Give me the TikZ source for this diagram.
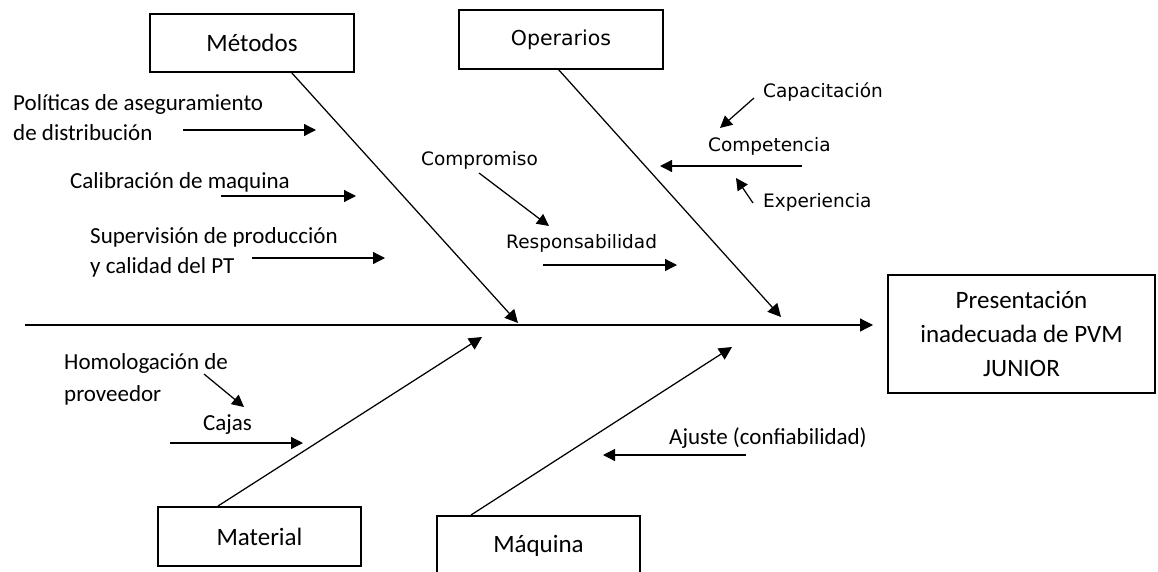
\documentclass[tikz,border=0pt]{standalone}
\usepackage{fontspec}
\setmainfont{Carlito}
\newfontfamily\verdfont{DejaVu Sans}
\usetikzlibrary{arrows.meta}

\begin{document}
\begin{tikzpicture}[x=1pt,y=-1pt,
  catbox/.style={draw, line width=1.3pt, inner sep=0pt, font=\fontsize{25}{30}\selectfont},
  lbl/.style={anchor=west, inner sep=0pt, align=left, font=\fontsize{23}{30}\selectfont},
  vlbl/.style={anchor=west, inner sep=0pt, align=left, font=\verdfont\fontsize{18.5}{23}\selectfont},
  bone/.style={line width=1.25pt, -{Triangle[length=13pt,width=13pt]}},
  twig/.style={line width=1.25pt, -{Triangle[length=12pt,width=12pt]}},
]
\useasboundingbox (0,0) rectangle (1158,571);

% category boxes and effect box
\node[catbox, minimum width=204pt, minimum height=58pt] (met) at (252,43) {Métodos};
\node[catbox, minimum width=204pt, minimum height=59pt, font=\verdfont\fontsize{20.5}{25}\selectfont] (ope) at (561,39.5) {Operarios};
\node[catbox, minimum width=203pt, minimum height=59pt] (mat) at (259.5,536.5) {Material};
\node[catbox, minimum width=203pt, minimum height=59pt] (maq) at (538.5,545.5) {Máquina};
\node[catbox, minimum width=267pt, minimum height=118pt, align=center,
      font=\fontsize{25}{34}\selectfont] (res) at (1021.5,334) {Presentación\\inadecuada de PVM\\JUNIOR};

% spine
\coordinate (tail) at (25,325);
\coordinate (head) at (873,325);
\draw[bone] (tail) -- (head);

% main bones
\coordinate (metA) at (291,72);   \coordinate (metB) at (518,323);
\coordinate (opeA) at (558,69);   \coordinate (opeB) at (781,317);
\coordinate (matA) at (218,506);  \coordinate (matB) at (482,337);
\coordinate (maqA) at (471,515);  \coordinate (maqB) at (732,347);
\draw[bone] (metA) -- (metB);
\draw[bone] (opeA) -- (opeB);
\draw[bone] (matA) -- (matB);
\draw[bone] (maqA) -- (maqB);

% causes: Métodos
\node[lbl] (pol) at (13,118) {Políticas de aseguramiento\\de distribución};
\coordinate (polA) at (183,130); \coordinate (polB) at (316,130);
\draw[twig] (polA) -- (polB);

\node[lbl] (cal) at (70,182) {Calibración de maquina};
\coordinate (calA) at (221,196); \coordinate (calB) at (356,196);
\draw[twig] (calA) -- (calB);

\node[lbl] (sup) at (90,252) {Supervisión de producción\\y calidad del PT};
\coordinate (supA) at (252,258); \coordinate (supB) at (385,258);
\draw[twig] (supA) -- (supB);

% causes: Operarios
\node[vlbl] (com) at (421,160) {Compromiso};
\coordinate (comA) at (479,173); \coordinate (comB) at (549,226);
\draw[twig] (comA) -- (comB);

\node[vlbl] (resp) at (506,243) {Responsabilidad};
\coordinate (respA) at (543,265); \coordinate (respB) at (677,265);
\draw[twig] (respA) -- (respB);

\node[vlbl] (cap) at (763,92) {Capacitación};
\coordinate (capA) at (754,98); \coordinate (capB) at (720,128);
\draw[twig] (capA) -- (capB);

\node[vlbl] (cmp) at (708,146) {Competencia};
\coordinate (cmpA) at (802,166); \coordinate (cmpB) at (660,166);
\draw[twig] (cmpA) -- (cmpB);

\node[vlbl] (exp) at (763,202) {Experiencia};
\coordinate (expA) at (753,203); \coordinate (expB) at (736,178);
\draw[twig] (expA) -- (expB);

% causes: Material
\node[lbl, font=\fontsize{23}{32}\selectfont] (hom) at (64,379) {Homologación de\\proveedor};
\coordinate (homA) at (204,374); \coordinate (homB) at (244,407);
\draw[twig] (homA) -- (homB);

\node[lbl] (caj) at (203,425) {Cajas};
\coordinate (cajA) at (170,443); \coordinate (cajB) at (303,443);
\draw[twig] (cajA) -- (cajB);

% causes: Máquina
\node[lbl] (aju) at (669,438) {Ajuste (confiabilidad)};
\coordinate (ajuA) at (746,455); \coordinate (ajuB) at (603,455);
\draw[twig] (ajuA) -- (ajuB);
\end{tikzpicture}
\end{document}
